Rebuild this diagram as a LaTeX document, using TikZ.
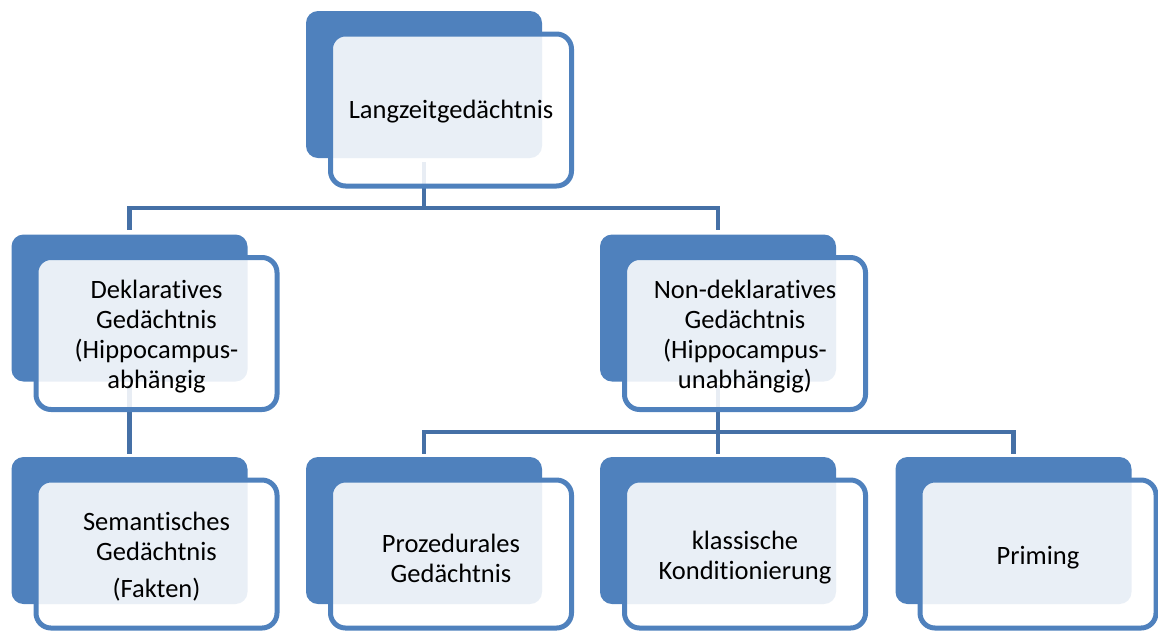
\documentclass[tikz,border=0pt]{standalone}
\usepackage{fontspec}
\setmainfont{Carlito}[Ligatures=NoCommon]
\definecolor{accent}{HTML}{4F81BD}
\definecolor{connc}{HTML}{4570A6}
\tikzset{
  backbox/.style={fill=accent, draw=none, rounded corners=12pt, minimum width=236pt, minimum height=147pt, inner sep=0pt},
  frontbox/.style={draw=accent, line width=5pt, fill=white, fill opacity=0.88, rounded corners=15pt,
    minimum width=241pt, minimum height=152pt, inner sep=0pt},
  txt/.style={align=center, text width=230pt, inner sep=0pt, font=\fontsize{26.5}{30}\selectfont},
  conn/.style={draw=connc, line width=4.5pt, line cap=rect, line join=miter}
}
\begin{document}
\begin{tikzpicture}[x=1pt,y=-1pt]
\useasboundingbox (0,0) rectangle (1158,630);
\clip (0,0) rectangle (1158,630);
% connectors first
\coordinate (bus1) at (424,208);
\coordinate (bus2) at (718,432);
\coordinate (s1) at (424,164);
\coordinate (s2) at (129.5,387);
\coordinate (s3) at (718,387);
\coordinate (e2) at (129.5,228);
\coordinate (e3) at (718,228);
\coordinate (e4) at (129.5,452);
\coordinate (e5) at (424,452);
\coordinate (e6) at (718,452);
\coordinate (e7) at (1013.5,452);
\draw[conn] (s1) -- (bus1);
\draw[conn] (e2) |- (bus1) -| (e3);
\draw[conn] (s2) -- (e4);
\draw[conn] (s3) -- (bus2);
\draw[conn] (e5) |- (bus2) -| (e7);
\draw[conn] (bus2) -- (e6);
% top node
\node[backbox] (b1) at (424,84.5) {};
\node[frontbox] (f1) at (451,110) {};
\node[txt] (t1) at ([yshift=-2pt]f1.center) {Langzeitgedächtnis};
% level 2
\node[backbox] (b2) at (129.5,308) {};
\node[frontbox] (f2) at (156.5,333.5) {};
\node[txt] (t2) at ([yshift=-3pt]f2.center) {Deklaratives\\Gedächtnis\\(Hippocampus-\\abhängig};
\node[backbox] (b3) at (718,308) {};
\node[frontbox] (f3) at (745,333.5) {};
\node[txt] (t3) at ([yshift=-3pt]f3.center) {Non-deklaratives\\Gedächtnis\\(Hippocampus-\\unabhängig)};
% level 3
\node[backbox] (b4) at (129.5,530.5) {};
\node[frontbox, minimum height=148pt] (f4) at (156.5,554) {};
\node[txt] (t4) at ([yshift=-3pt]f4.center) {Semantisches\\Gedächtnis\\[7pt](Fakten)};
\node[backbox] (b5) at (424,530.5) {};
\node[frontbox, minimum height=148pt] (f5) at (451,554) {};
\node[txt] (t5) at ([yshift=-4pt]f5.center) {Prozedurales\\Gedächtnis};
\node[backbox] (b6) at (718,530.5) {};
\node[frontbox, minimum height=148pt] (f6) at (745,554) {};
\node[txt] (t6) at ([yshift=-4pt]f6.center) {klassische\\Konditionierung};
\node[backbox] (b7) at (1013.5,530.5) {};
\node[frontbox, minimum height=148pt, minimum width=236pt] (f7) at (1038,554) {};
\node[txt] (t7) at ([yshift=-4pt]f7.center) {Priming};
\end{tikzpicture}
\end{document}
